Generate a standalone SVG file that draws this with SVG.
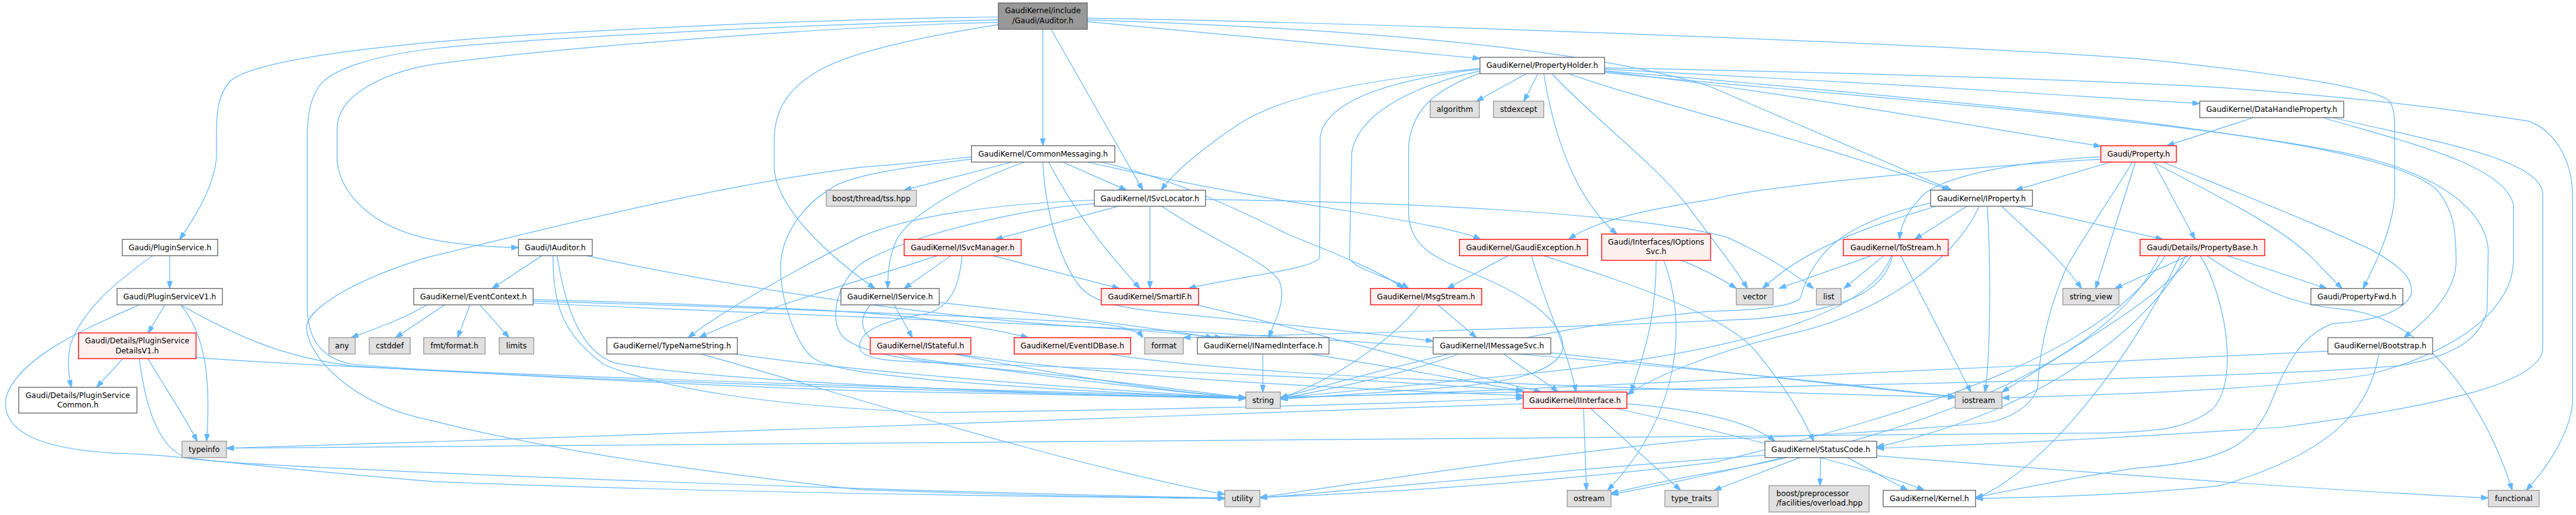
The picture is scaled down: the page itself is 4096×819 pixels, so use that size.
<svg xmlns="http://www.w3.org/2000/svg" width="4096" height="819" viewBox="0 0 4096 819">
<defs>
<marker id="a" viewBox="0 0 13 9" refX="12.5" refY="4.5" markerWidth="13" markerHeight="9" markerUnits="userSpaceOnUse" orient="auto">
<path d="M0,0 L13,4.5 L0,9 z" fill="#63b8ff" stroke="#63b8ff" stroke-width="1"/>
</marker>
<style>
.e path{fill:none;stroke:#63b8ff;stroke-width:1.3;marker-end:url(#a)}
rect{stroke-width:1.4}
.n rect{fill:#ffffff;stroke:#666666}
.r rect{fill:#fff0f0;stroke:#ff0000}
.g rect{fill:#e0e0e0;stroke:#999999}
.root rect{fill:#999999;stroke:#666666}
text{font-family:"DejaVu Sans","Liberation Sans",sans-serif;font-size:12.9px;fill:#000000;text-anchor:middle}
text.l{text-anchor:start}
</style>
</defs>
<rect x="0" y="0" width="4096" height="819" fill="#ffffff"/>
<g transform="scale(0.9305)">
<g id="edges" class="e">
<path d="M1706,29 C1400,32 900,55 700,76 C540,92 420,112 392,140 C373,162 370,190 370,230 L370,267 C368,305 345,355 307,409"/>
<path d="M1706,38 C1400,46 950,82 740,110 C650,125 576,165 576,220 L576,275 C582,340 650,398 760,413 C810,420 850,423 886,423"/>
<path d="M1706,34 C1400,40 900,66 740,83 C640,95 565,118 545,148 C530,170 525,195 525,240 L525,520 C524,575 545,612 600,622 C700,632 1100,655 1470,668 C1800,676 2000,679 2129,681"/>
<path d="M1706,42 C1580,62 1470,85 1410,115 C1350,145 1323,185 1323,240 L1323,290 C1330,360 1420,440 1495,493"/>
<path d="M1782,50 L1782,249"/>
<path d="M1796,50 L1953,325"/>
<path d="M1858,37 L2529,100"/>
<path d="M1858,34 C2300,48 2700,80 2920,147 L3335,325"/>
<path d="M1858,31 C2400,40 3300,75 3650,100 C3900,125 4050,150 4080,170 C4090,180 4092,195 4092,215 L4092,333 C4090,380 4070,430 4038,493"/>
<path d="M290,437 L290,493"/>
<path d="M261,437 C200,480 140,530 120,590 C114,620 118,645 122,662"/>
<path d="M282,521 L253,569"/>
<path d="M309,521 C345,565 362,630 353,754"/>
<path d="M238,521 C150,560 30,610 10,680 C2,735 60,772 236,776 C320,780 400,795 740,823 C1200,842 1800,849 2093,852"/>
<path d="M310,522 C400,572 480,610 600,625 C1000,652 1800,674 2129,680"/>
<path d="M210,613 L165,662"/>
<path d="M253,613 C280,660 312,705 337,754"/>
<path d="M335,611 C500,624 1000,648 2129,679"/>
<path d="M238,613 C248,690 268,765 320,783 C420,800 1500,840 2093,851"/>
<path d="M926,437 L841,493"/>
<path d="M1002,437 C1200,480 1500,530 1800,555 C1950,565 2040,572 2088,577"/>
<path d="M952,437 C965,520 990,600 1050,620 C1200,650 1700,672 2129,681"/>
<path d="M945,437 C945,520 960,570 1032,623 C1120,660 1300,695 1600,705 C2000,700 2400,690 2603,680"/>
<path d="M730,521 C690,545 640,562 600,577"/>
<path d="M760,521 L676,577"/>
<path d="M803,521 L782,577"/>
<path d="M820,521 L870,577"/>
<path d="M911,512 C1200,520 1500,530 1600,548 C1680,560 1730,570 1757,577"/>
<path d="M911,515 C1300,525 1700,542 1870,552 C1920,557 1945,566 1953,577"/>
<path d="M911,518 C1400,540 2000,560 2400,590 C2800,620 3100,650 3341,678"/>
<path d="M1255,605 C1500,640 1900,668 2129,680"/>
<path d="M1197,605 C1400,660 1800,790 2093,845"/>
<path d="M1729,277 L1545,325"/>
<path d="M1750,277 C1660,310 1560,360 1532,410 C1519,440 1517,465 1517,493"/>
<path d="M1792,277 C1840,370 1900,440 1948,493"/>
<path d="M1816,277 L1925,325"/>
<path d="M1782,277 C1785,340 1800,420 1838,480 C1860,515 1900,525 2000,535 C2200,555 2350,570 2449,583"/>
<path d="M1881,277 C2000,305 2100,350 2200,400 C2300,440 2370,470 2398,493"/>
<path d="M1859,277 C2000,310 2200,345 2300,360 C2420,380 2500,395 2530,409"/>
<path d="M1660,268 C1600,275 1520,282 1470,286 C1200,320 900,400 730,440 C600,480 520,530 524,563 C528,610 600,690 730,717 C900,760 1100,795 1470,837 C1800,848 2000,851 2093,852"/>
<path d="M1660,272 C1550,285 1450,300 1420,322 C1370,352 1338,400 1334,450 C1332,510 1360,590 1390,612 C1420,632 1500,640 1600,650 C1800,666 2000,676 2129,680"/>
<path d="M1913,352 L1701,409"/>
<path d="M1965,352 L1965,493"/>
<path d="M1870,342 C1700,348 1550,370 1470,405 C1400,440 1250,520 1176,577"/>
<path d="M1870,348 C1750,356 1560,400 1475,448 C1430,480 1415,545 1440,575 C1470,605 1560,618 1700,630 C1900,650 2050,670 2129,680"/>
<path d="M1984,352 C2080,415 2160,445 2185,478 C2200,510 2180,545 2168,577"/>
<path d="M2060,341 C2400,345 2800,365 2950,405 C2995,425 3050,455 3099,493"/>
<path d="M1601,437 C1500,472 1300,525 1195,577"/>
<path d="M1625,437 L1545,493"/>
<path d="M1696,437 L1913,493"/>
<path d="M1644,437 C1640,480 1630,525 1580,537 C1500,548 1462,572 1470,598 C1480,615 1520,617 1600,620 C2000,632 2400,652 2603,668"/>
<path d="M1528,521 L1559,577"/>
<path d="M1605,517 C1800,538 1950,558 2073,577"/>
<path d="M1488,521 C1460,550 1470,590 1560,612 C1800,645 2000,670 2129,680"/>
<path d="M1630,605 C1800,640 2000,670 2129,680"/>
<path d="M1635,605 C1900,645 2300,665 2603,676"/>
<path d="M1894,605 C2100,640 2600,660 3341,679"/>
<path d="M2158,605 L2158,670"/>
<path d="M2237,605 C2400,630 2500,650 2603,668"/>
<path d="M2045,521 C2300,580 2500,640 2634,670"/>
<path d="M2457,521 L2523,577"/>
<path d="M2426,521 C2380,580 2280,650 2188,680"/>
<path d="M2570,605 C2600,630 2640,650 2662,670"/>
<path d="M2492,605 C2400,640 2250,670 2188,681"/>
<path d="M2650,603 C2900,630 3200,665 3341,678"/>
<path d="M2706,698 L2711,838"/>
<path d="M2718,698 L2872,838"/>
<path d="M2603,690 C2200,707 1470,732 740,755 C600,759 450,764 387,766"/>
<path d="M2780,690 C2900,700 2990,720 3033,754"/>
<path d="M2761,698 C2950,740 3200,800 3288,838"/>
<path d="M2577,437 L2473,493"/>
<path d="M2617,437 C2640,520 2680,600 2693,670"/>
<path d="M2638,437 C2800,490 2950,540 3000,600 C3050,660 3080,710 3099,754"/>
<path d="M2830,445 C2830,560 2800,630 2787,670"/>
<path d="M2843,445 C2880,540 2880,700 2747,838"/>
<path d="M2874,445 C2910,460 2940,475 2967,493"/>
<path d="M3362,352 L3272,409"/>
<path d="M3446,352 L3696,409"/>
<path d="M3396,352 C3402,450 3402,600 3392,670"/>
<path d="M3420,352 C3470,400 3520,440 3557,493"/>
<path d="M3310,352 C3200,385 3090,420 3012,493"/>
<path d="M3382,352 C3340,450 3200,540 3062,570 C2950,595 2830,640 2780,675"/>
<path d="M3299,347 C3150,380 3100,430 3076,510 C3060,525 3000,530 2920,532 C2600,560 2300,650 2188,680"/>
<path d="M3607,277 L3444,325"/>
<path d="M3590,268 C3450,275 3330,300 3290,330 C3258,360 3248,385 3246,409"/>
<path d="M3680,277 L3751,409"/>
<path d="M3649,277 L3581,493"/>
<path d="M3679,277 C3800,340 3900,390 3950,440 L4002,493"/>
<path d="M3696,277 C3850,340 4000,400 4058,430 C4110,460 4125,480 4120,505 C4100,540 4040,550 3986,553 C3940,570 3910,610 3880,690 C3850,760 3800,790 3650,800 C3550,815 3450,835 3376,850"/>
<path d="M3644,277 C3600,350 3550,420 3530,460 C3500,530 3485,600 3482,663 C3470,700 3420,720 3392,723 C3200,740 3000,750 2920,750 C2600,780 2300,830 2153,850"/>
<path d="M3590,272 C3300,290 3000,320 2930,340 C2800,360 2720,380 2681,409"/>
<path d="M3198,437 L3040,493"/>
<path d="M3219,437 L3151,493"/>
<path d="M3248,437 L3368,670"/>
<path d="M3234,437 C3220,500 3150,530 3000,545 C2500,568 2100,574 2022,577"/>
<path d="M3232,437 C3200,530 3000,600 2600,640 C2400,660 2250,675 2188,680"/>
<path d="M3806,437 L3976,493"/>
<path d="M3740,437 L3614,493"/>
<path d="M3760,437 C3800,500 3830,650 3780,700 C3740,730 3700,737 3600,740 C2500,750 1200,760 387,766"/>
<path d="M3745,437 C3700,500 3600,560 3421,670"/>
<path d="M3735,437 C3680,550 3500,700 3207,764"/>
<path d="M3725,437 C3650,600 3500,800 3376,852"/>
<path d="M3771,437 C3820,470 3900,520 4000,528 C4150,540 4250,700 4293,838"/>
<path d="M3700,437 C3600,600 3300,700 2930,790 C2600,830 2300,845 2153,850"/>
<path d="M3690,437 C3600,640 3200,760 2930,807 C2850,820 2800,832 2753,843"/>
<path d="M3851,201 L3703,249"/>
<path d="M3969,201 C4100,240 4280,280 4295,350 L4295,450 C4290,530 4200,600 4050,640 C3900,665 3600,675 3421,680"/>
<path d="M3986,201 C4150,240 4340,270 4345,330 L4345,597 C4340,650 4200,690 3900,730 C3600,750 3400,760 3207,766"/>
<path d="M2608,126 L2523,173"/>
<path d="M2628,126 L2604,173"/>
<path d="M2638,126 C2650,200 2680,330 2763,400"/>
<path d="M2652,126 C2720,200 2830,280 2890,360 C2930,415 2960,450 2986,493"/>
<path d="M2681,126 C2800,170 3100,240 3331,325"/>
<path d="M2529,117 C2350,135 2200,160 2120,210 C2060,250 2010,290 1984,325"/>
<path d="M2529,118 C2350,140 2265,180 2256,233 L2255,440 C2250,460 2100,475 2031,493"/>
<path d="M2529,121 C2400,150 2320,200 2310,260 L2306,440 C2310,460 2380,475 2407,493"/>
<path d="M2529,125 C2460,150 2412,183 2407,250 L2407,367 C2410,420 2450,440 2500,460 C2600,500 2665,540 2671,590 C2670,630 2600,650 2500,660 C2350,672 2250,678 2188,682"/>
<path d="M2742,122 C3000,150 3400,220 3590,250"/>
<path d="M2742,118 C3000,130 3500,160 3759,177"/>
<path d="M2742,121 C3100,150 3500,190 3650,207 C3900,240 4100,270 4163,323 C4195,360 4197,400 4197,450 C4195,500 4150,545 4108,577"/>
<path d="M2742,116 C3200,125 3600,138 3800,150 C4000,165 4150,180 4321,207 C4370,225 4396,280 4396,333 L4396,690 C4390,740 4360,790 4317,838"/>
<path d="M2742,124 C3100,160 3700,200 4000,260 C4200,300 4252,380 4252,430 L4250,530 C4240,580 4190,610 4100,625 C3800,650 3000,660 2188,679"/>
<path d="M3111,782 L3110,830"/>
<path d="M3157,782 L3260,838"/>
<path d="M3076,782 L2929,838"/>
<path d="M3048,782 C2950,805 2850,828 2753,845"/>
<path d="M3016,778 C2700,800 2400,830 2153,851"/>
<path d="M3207,779 C3600,810 4000,840 4252,851"/>
<path d="M3978,600 C3600,620 3000,645 2700,660 C2500,670 2300,677 2188,680"/>
<path d="M4065,605 C4050,690 4000,770 3794,830 C3650,845 3500,850 3376,852"/>
</g>
<g id="n1" class="root"><rect x="1706" y="5" width="152" height="45"/><text x="1782" y="23">GaudiKernel/include</text><text x="1782" y="39.5">/Gaudi/Auditor.h</text></g>
<g id="n2" class="n"><rect x="209" y="409" width="163" height="28"/><text x="290.5" y="427.5">Gaudi/PluginService.h</text></g>
<g id="n3" class="n"><rect x="200" y="493" width="180" height="28"/><text x="290" y="511.5">Gaudi/PluginServiceV1.h</text></g>
<g id="n4" class="r"><rect x="134" y="569" width="201" height="44"/><text x="234.5" y="587">Gaudi/Details/PluginService</text><text x="234.5" y="603.5">DetailsV1.h</text></g>
<g id="n5" class="n"><rect x="32" y="662" width="202" height="44"/><text x="133" y="680">Gaudi/Details/PluginService</text><text x="133" y="696.5">Common.h</text></g>
<g id="n6" class="g"><rect x="311" y="754" width="76" height="28"/><text x="349" y="772.5">typeinfo</text></g>
<g id="n7" class="n"><rect x="886" y="409" width="126" height="28"/><text x="949" y="427.5">Gaudi/IAuditor.h</text></g>
<g id="n8" class="n"><rect x="707" y="493" width="204" height="28"/><text x="809" y="511.5">GaudiKernel/EventContext.h</text></g>
<g id="n9" class="g"><rect x="562" y="577" width="45" height="28"/><text x="584.5" y="595.5">any</text></g>
<g id="n10" class="g"><rect x="631" y="577" width="70" height="28"/><text x="666" y="595.5">cstddef</text></g>
<g id="n11" class="g"><rect x="724" y="577" width="105" height="28"/><text x="776.5" y="595.5">fmt/format.h</text></g>
<g id="n12" class="g"><rect x="853" y="577" width="59" height="28"/><text x="882.5" y="595.5">limits</text></g>
<g id="n13" class="n"><rect x="1037" y="577" width="223" height="28"/><text x="1148.5" y="595.5">GaudiKernel/TypeNameString.h</text></g>
<g id="n14" class="n"><rect x="1660" y="249" width="245" height="28"/><text x="1782.5" y="267.5">GaudiKernel/CommonMessaging.h</text></g>
<g id="n15" class="g"><rect x="1412" y="325" width="154" height="27.5"/><text x="1489" y="343.5">boost/thread/tss.hpp</text></g>
<g id="n16" class="n"><rect x="1870" y="325" width="190" height="27.5"/><text x="1965" y="343.5">GaudiKernel/ISvcLocator.h</text></g>
<g id="n17" class="r"><rect x="1545" y="409" width="200" height="28"/><text x="1645" y="427.5">GaudiKernel/ISvcManager.h</text></g>
<g id="n18" class="n"><rect x="1437" y="493" width="168" height="28"/><text x="1521" y="511.5">GaudiKernel/IService.h</text></g>
<g id="n19" class="r"><rect x="1487" y="577" width="172" height="28"/><text x="1573" y="595.5">GaudiKernel/IStateful.h</text></g>
<g id="n20" class="r"><rect x="1733" y="577" width="199" height="28"/><text x="1832.5" y="595.5">GaudiKernel/EventIDBase.h</text></g>
<g id="n21" class="g"><rect x="1956" y="577" width="66" height="28"/><text x="1989" y="595.5">format</text></g>
<g id="n22" class="n"><rect x="2046" y="577" width="225" height="28"/><text x="2158.5" y="595.5">GaudiKernel/INamedInterface.h</text></g>
<g id="n23" class="r"><rect x="1882" y="493" width="166" height="28"/><text x="1965" y="511.5">GaudiKernel/SmartIF.h</text></g>
<g id="n24" class="g"><rect x="2129" y="670" width="59" height="28"/><text x="2158.5" y="688.5">string</text></g>
<g id="n25" class="g"><rect x="2093" y="838" width="60" height="28"/><text x="2123" y="856.5">utility</text></g>
<g id="n26" class="n"><rect x="2529" y="98" width="213" height="28"/><text x="2635.5" y="116.5">GaudiKernel/PropertyHolder.h</text></g>
<g id="n27" class="g"><rect x="2444" y="173" width="84" height="28"/><text x="2486" y="191.5">algorithm</text></g>
<g id="n28" class="g"><rect x="2552" y="173" width="86" height="28"/><text x="2595" y="191.5">stdexcept</text></g>
<g id="n29" class="r"><rect x="2494" y="409" width="219" height="28"/><text x="2603.5" y="427.5">GaudiKernel/GaudiException.h</text></g>
<g id="n30" class="r"><rect x="2737" y="400" width="186" height="45"/><text x="2830" y="418">Gaudi/Interfaces/IOptions</text><text x="2830" y="434.5">Svc.h</text></g>
<g id="n31" class="r"><rect x="2342" y="493" width="190" height="28"/><text x="2437" y="511.5">GaudiKernel/MsgStream.h</text></g>
<g id="n32" class="n"><rect x="2449" y="577" width="201" height="28"/><text x="2549.5" y="595.5">GaudiKernel/IMessageSvc.h</text></g>
<g id="n33" class="r"><rect x="2603" y="670" width="177" height="28"/><text x="2691.5" y="688.5">GaudiKernel/IInterface.h</text></g>
<g id="n34" class="g"><rect x="2678" y="838" width="75" height="28"/><text x="2715.5" y="856.5">ostream</text></g>
<g id="n35" class="g"><rect x="2845" y="838" width="91" height="28"/><text x="2890.5" y="856.5">type_traits</text></g>
<g id="n36" class="n"><rect x="3299" y="325" width="174" height="27.5"/><text x="3386" y="343.5">GaudiKernel/IProperty.h</text></g>
<g id="n37" class="r"><rect x="3590" y="249" width="129" height="28"/><text x="3654.5" y="267.5">Gaudi/Property.h</text></g>
<g id="n38" class="r"><rect x="3150" y="409" width="179" height="28"/><text x="3239.5" y="427.5">GaudiKernel/ToStream.h</text></g>
<g id="n39" class="n"><rect x="3759" y="173" width="246" height="28"/><text x="3882" y="191.5">GaudiKernel/DataHandleProperty.h</text></g>
<g id="n40" class="r"><rect x="3657" y="409" width="213" height="28"/><text x="3763.5" y="427.5">Gaudi/Details/PropertyBase.h</text></g>
<g id="n41" class="g"><rect x="2967" y="493" width="63" height="28"/><text x="2998.5" y="511.5">vector</text></g>
<g id="n42" class="g"><rect x="3104" y="493" width="42" height="28"/><text x="3125" y="511.5">list</text></g>
<g id="n43" class="g"><rect x="3525" y="493" width="96" height="28"/><text x="3573" y="511.5">string_view</text></g>
<g id="n44" class="g"><rect x="3341" y="670" width="80" height="28"/><text x="3381" y="688.5">iostream</text></g>
<g id="n45" class="n"><rect x="3016" y="754" width="191" height="28"/><text x="3111.5" y="772.5">GaudiKernel/StatusCode.h</text></g>
<g id="n46" class="g"><rect x="3023" y="830" width="171" height="45"/><text class="l" x="3035.5" y="848">boost/preprocessor</text><text class="l" x="3035.5" y="864.5">/facilities/overload.hpp</text></g>
<g id="n47" class="n"><rect x="3218" y="838" width="158" height="28"/><text x="3297" y="856.5">GaudiKernel/Kernel.h</text></g>
<g id="n48" class="n"><rect x="3949" y="493" width="157" height="28"/><text x="4027.5" y="511.5">Gaudi/PropertyFwd.h</text></g>
<g id="n49" class="n"><rect x="3978" y="577" width="179" height="28"/><text x="4067.5" y="595.5">GaudiKernel/Bootstrap.h</text></g>
<g id="n50" class="g"><rect x="4252" y="838" width="87" height="28"/><text x="4295.5" y="856.5">functional</text></g>
</g>
</svg>
